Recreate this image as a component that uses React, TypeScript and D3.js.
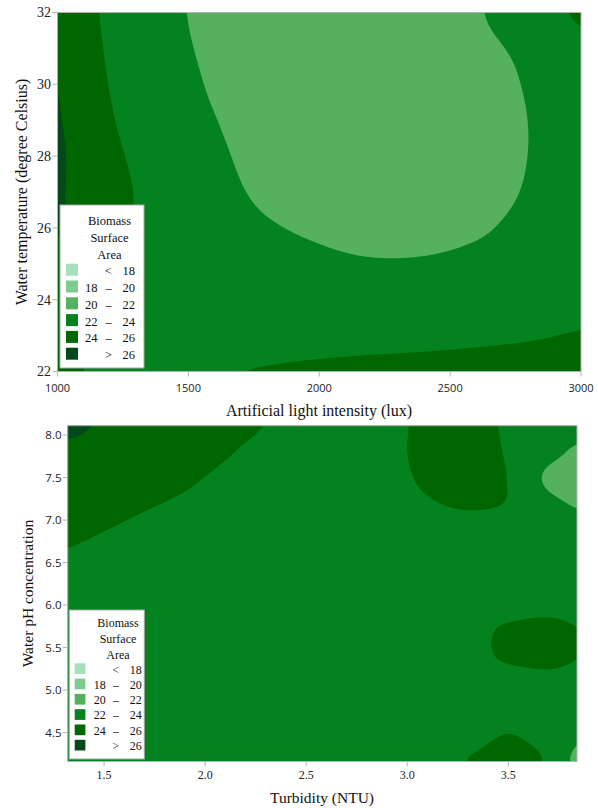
import React from "react";
import * as d3 from "d3";

// Biomass surface area measured over light intensity (lux) and water temperature (°C)
const luxLevels = [1000, 1200, 1400, 1600, 1800, 2000, 2200, 2400, 2600, 2800, 3000];
const temperatureLevels = [32, 31, 30, 29, 28, 27, 26, 25, 24, 23, 22];
const biomassT32 = [25.2, 23.7, 22.6, 21.4, 20.9, 20.7, 20.8, 21.2, 21.85, 23.0, 24.2];
const biomassT31 = [25.5, 23.8, 22.7, 21.6, 21.0, 20.8, 20.8, 21.0, 21.6, 22.4, 23.6];
const biomassT30 = [25.95, 23.95, 22.9, 21.8, 21.1, 20.8, 20.7, 20.9, 21.3, 22.15, 23.3];
const biomassT29 = [26.1, 24.15, 23.0, 22.05, 21.2, 20.8, 20.7, 20.8, 21.2, 22.02, 23.1];
const biomassT28 = [26.2, 24.4, 23.2, 22.3, 21.4, 20.9, 20.7, 20.8, 21.2, 22.02, 23.0];
const biomassT27 = [26.15, 24.6, 23.35, 22.5, 21.7, 21.1, 20.9, 21.0, 21.35, 22.15, 23.0];
const biomassT26 = [26.1, 24.5, 23.4, 22.7, 22.15, 21.75, 21.5, 21.5, 21.8, 22.45, 23.1];
const biomassT25 = [25.6, 24.1, 23.5, 23.0, 22.6, 22.3, 22.12, 22.15, 22.4, 22.8, 23.3];
const biomassT24 = [24.9, 23.85, 23.4, 23.15, 23.0, 22.9, 22.85, 22.9, 23.05, 23.3, 23.6];
const biomassT23 = [24.2, 23.6, 23.35, 23.2, 23.2, 23.3, 23.4, 23.5, 23.65, 23.85, 24.1];
const biomassT22 = [24.3, 23.7, 23.6, 23.85, 24.1, 24.3, 24.45, 24.55, 24.7, 24.85, 25.0];

// Biomass surface area measured over turbidity (NTU) and water pH
const turbidityLevels = [1.3, 1.5, 1.7, 1.9, 2.1, 2.3, 2.5, 2.7, 2.9, 3.1, 3.3, 3.5, 3.7, 3.9];
const phLevels = [8.1, 7.8, 7.5, 7.2, 6.9, 6.6, 6.3, 6.0, 5.7, 5.4, 5.1, 4.8, 4.5, 4.2];
const biomassPh81 = [26.3, 25.85, 25.5, 25.1, 24.6, 23.95, 23.4, 23.1, 23.5, 24.4, 24.5, 23.8, 23.0, 22.6];
const biomassPh78 = [25.7, 25.4, 25.05, 24.7, 24.15, 23.5, 23.1, 23.0, 23.5, 24.45, 24.6, 23.85, 22.5, 21.5];
const biomassPh75 = [25.26, 24.95, 24.6, 24.25, 23.7, 23.2, 23.0, 22.95, 23.35, 24.3, 24.5, 23.95, 21.7, 21.3];
const biomassPh72 = [24.81, 24.5, 24.15, 23.8, 23.3, 23.0, 22.9, 22.9, 23.1, 23.85, 24.2, 23.9, 22.4, 21.7];
const biomassPh69 = [24.36, 24.05, 23.7, 23.4, 23.05, 22.9, 22.85, 22.9, 23.0, 23.2, 23.4, 23.2, 22.9, 22.6];
const biomassPh66 = [23.91, 23.6, 23.3, 23.1, 22.95, 22.85, 22.8, 22.85, 22.95, 23.0, 23.05, 23.0, 23.0, 22.9];
const biomassPh63 = [23.46, 23.2, 23.05, 22.95, 22.85, 22.8, 22.8, 22.85, 22.9, 23.0, 23.05, 23.1, 23.15, 23.0];
const biomassPh60 = [23.1, 23.0, 22.95, 22.9, 22.85, 22.8, 22.8, 22.85, 22.9, 23.0, 23.1, 23.2, 23.5, 23.2];
const biomassPh57 = [22.95, 22.95, 22.9, 22.85, 22.8, 22.8, 22.8, 22.85, 22.9, 23.0, 23.3, 24.3, 24.5, 23.9];
const biomassPh54 = [22.9, 22.9, 22.85, 22.8, 22.8, 22.75, 22.8, 22.85, 22.9, 23.0, 23.3, 24.3, 24.5, 23.9];
const biomassPh51 = [22.9, 22.85, 22.8, 22.8, 22.75, 22.75, 22.8, 22.85, 22.9, 22.95, 23.05, 23.2, 23.5, 23.2];
const biomassPh48 = [22.9, 22.85, 22.8, 22.8, 22.75, 22.75, 22.8, 22.85, 22.9, 22.95, 23.1, 23.2, 23.1, 23.0];
const biomassPh45 = [22.95, 22.9, 22.85, 22.8, 22.8, 22.8, 22.85, 22.9, 22.95, 23.0, 23.3, 23.97, 23.3, 22.5];
const biomassPh42 = [23.0, 22.95, 22.9, 22.85, 22.85, 22.85, 22.9, 22.95, 23.0, 23.2, 24.0, 24.5, 23.73, 20.6];

// Axis ticks
const luxTicks = [1000, 1500, 2000, 2500, 3000];
const temperatureTicks = [22, 24, 26, 28, 30, 32];
const turbidityTicks = [1.5, 2.0, 2.5, 3.0, 3.5];
const phTicks = [4.5, 5.0, 5.5, 6.0, 6.5, 7.0, 7.5, 8.0];

// Contour bands and legend
const bandThresholds = [18, 20, 22, 24, 26];
const bandColors = ["#a6dfba", "#7ecb8f", "#55b15e", "#03821f", "#006600", "#00491b"];
const bandLower = ["", "18", "20", "22", "24", ""];
const bandSymbol = ["<", "–", "–", "–", "–", ">"];
const bandUpper = ["18", "20", "22", "24", "26", "26"];
const legendTitle = ["Biomass", "Surface", "Area"];

const SERIF = "'Liberation Serif', 'Times New Roman', serif";
const SANS = "'Open Sans', 'Noto Sans', sans-serif";
const FRAME = "#b2b2b2";

type Grid = number[][];

function catmullRom(p0: number, p1: number, p2: number, p3: number, t: number) {
  return (
    0.5 *
    (2 * p1 +
      (p2 - p0) * t +
      (2 * p0 - 5 * p1 + 4 * p2 - p3) * t * t +
      (3 * p1 - p0 - 3 * p2 + p3) * t * t * t)
  );
}

// Smooth (bicubic) reading of the measured grid at fractional grid indices
function sampleGrid(grid: Grid, gx: number, gy: number) {
  const rows = grid.length;
  const cols = grid[0].length;
  const cx = Math.max(0, Math.min(cols - 1, gx));
  const cy = Math.max(0, Math.min(rows - 1, gy));
  const ix = Math.min(Math.floor(cx), cols - 2);
  const iy = Math.min(Math.floor(cy), rows - 2);
  const tx = cx - ix;
  const ty = cy - iy;
  const at = (r: number, c: number) =>
    grid[Math.max(0, Math.min(rows - 1, r))][Math.max(0, Math.min(cols - 1, c))];
  const v = [-1, 0, 1, 2].map((d) =>
    catmullRom(at(iy + d, ix - 1), at(iy + d, ix), at(iy + d, ix + 1), at(iy + d, ix + 2), tx)
  );
  return catmullRom(v[0], v[1], v[2], v[3], ty);
}

type PanelConfig = {
  xLevels: number[];
  yLevels: number[];
  grid: Grid;
  xDomain: [number, number];
  xRange: [number, number];
  yDomain: [number, number];
  yRange: [number, number];
  xTicks: number[];
  yTicks: number[];
  tickFormat: (d: number) => string;
  xTickFont: string;
  xTickSize: number;
  xTickBaseline: number;
  yTickFont: string;
  yTickSize: number;
  yTickRight: number;
  xTitle: string;
  xTitlePos: [number, number];
  yTitle: string;
  yTitlePos: [number, number];
  titleSize: number;
  legend: {
    x: number;
    y: number;
    w: number;
    h: number;
    titleCx: number;
    titleY: number[];
    rowY: number;
    rowStep: number;
    swatchX: number;
    swatchSize: number;
    colRight: [number, number, number];
    fontSize: number;
  };
};

function ContourPanel({ cfg }: { cfg: PanelConfig }) {
  const x = d3.scaleLinear().domain(cfg.xDomain).range(cfg.xRange);
  const y = d3.scaleLinear().domain(cfg.yDomain).range(cfg.yRange);
  const gxScale = d3
    .scaleLinear()
    .domain([cfg.xLevels[0], cfg.xLevels[cfg.xLevels.length - 1]])
    .range([0, cfg.xLevels.length - 1]);
  const gyScale = d3
    .scaleLinear()
    .domain([cfg.yLevels[0], cfg.yLevels[cfg.yLevels.length - 1]])
    .range([0, cfg.yLevels.length - 1]);

  const [left, right] = cfg.xRange;
  const [bottom, top] = cfg.yRange;
  const W = right - left;
  const H = bottom - top;
  const nx = Math.round(W / 2);
  const ny = Math.round(H / 2);
  const values: number[] = new Array(nx * ny);
  for (let j = 0; j < ny; j++) {
    const gy = gyScale(y.invert(top + ((j + 0.5) * H) / ny));
    for (let i = 0; i < nx; i++) {
      const gx = gxScale(x.invert(left + ((i + 0.5) * W) / nx));
      values[j * nx + i] = sampleGrid(cfg.grid, gx, gy);
    }
  }
  const bands = d3.contours().size([nx, ny]).thresholds(bandThresholds)(values);
  const projection = d3.geoTransform({
    point: function (px: number, py: number) {
      (this as any).stream.point(left + (px * W) / nx, top + (py * H) / ny);
    },
  });
  const path = d3.geoPath(projection as any);
  const lg = cfg.legend;

  return (
    <g>
      <rect x={left} y={top} width={W} height={H} fill={bandColors[0]} />
      {bands.map((b, k) => (
        <path key={k} d={path(b as any) || ""} fill={bandColors[k + 1]} />
      ))}
      <rect x={left} y={top} width={W} height={H} fill="none" stroke={FRAME} strokeWidth={1} />

      {cfg.yTicks.map((t) => (
        <g key={"y" + t}>
          <line x1={left - 5} x2={left} y1={y(t)} y2={y(t)} stroke={FRAME} />
          <text
            x={cfg.yTickRight}
            y={y(t)}
            dy="0.35em"
            textAnchor="end"
            fontFamily={cfg.yTickFont}
            fontSize={cfg.yTickSize}
            fill="#222"
          >
            {cfg.tickFormat(t)}
          </text>
        </g>
      ))}
      {cfg.xTicks.map((t) => (
        <g key={"x" + t}>
          <line x1={x(t)} x2={x(t)} y1={bottom} y2={bottom + 5} stroke={FRAME} />
          <text
            x={x(t)}
            y={cfg.xTickBaseline}
            textAnchor="middle"
            fontFamily={cfg.xTickFont}
            fontSize={cfg.xTickSize}
            fill="#222"
          >
            {cfg.tickFormat(t)}
          </text>
        </g>
      ))}

      <text
        x={cfg.xTitlePos[0]}
        y={cfg.xTitlePos[1]}
        textAnchor="middle"
        fontFamily={SERIF}
        fontSize={cfg.titleSize}
        fill="#111"
      >
        {cfg.xTitle}
      </text>
      <text
        transform={`translate(${cfg.yTitlePos[0]},${cfg.yTitlePos[1]}) rotate(-90)`}
        textAnchor="middle"
        fontFamily={SERIF}
        fontSize={cfg.titleSize}
        fill="#111"
      >
        {cfg.yTitle}
      </text>

      <g fontFamily={SERIF} fontSize={lg.fontSize} fill="#111">
        <rect x={lg.x} y={lg.y} width={lg.w} height={lg.h} fill="#fff" stroke="#a9a9a9" />
        {legendTitle.map((s, i) => (
          <text key={s} x={lg.titleCx} y={lg.titleY[i]} textAnchor="middle">
            {s}
          </text>
        ))}
        {bandColors.map((c, i) => {
          const by = lg.rowY + i * lg.rowStep;
          return (
            <g key={c}>
              <rect x={lg.swatchX} y={by - lg.swatchSize + 0.5} width={lg.swatchSize} height={lg.swatchSize} fill={c} />
              <text x={lg.colRight[0]} y={by} textAnchor="end">
                {bandLower[i]}
              </text>
              <text x={lg.colRight[1]} y={by} textAnchor="end">
                {bandSymbol[i]}
              </text>
              <text x={lg.colRight[2]} y={by} textAnchor="end">
                {bandUpper[i]}
              </text>
            </g>
          );
        })}
      </g>
    </g>
  );
}

const temperaturePanel: PanelConfig = {
  xLevels: luxLevels,
  yLevels: temperatureLevels,
  grid: [
    biomassT32, biomassT31, biomassT30, biomassT29, biomassT28, biomassT27,
    biomassT26, biomassT25, biomassT24, biomassT23, biomassT22,
  ],
  xDomain: [1000, 3000],
  xRange: [57.5, 581],
  yDomain: [22, 32],
  yRange: [371.5, 12.5],
  xTicks: luxTicks,
  yTicks: temperatureTicks,
  tickFormat: (d) => String(d),
  xTickFont: SANS,
  xTickSize: 11,
  xTickBaseline: 392,
  yTickFont: SERIF,
  yTickSize: 14,
  yTickRight: 51,
  xTitle: "Artificial light intensity (lux)",
  xTitlePos: [319, 416],
  yTitle: "Water temperature (degree Celsius)",
  yTitlePos: [27, 192],
  titleSize: 16,
  legend: {
    x: 60,
    y: 205,
    w: 84,
    h: 163,
    titleCx: 109.5,
    titleY: [225, 241.8, 258.6],
    rowY: 275.2,
    rowStep: 16.8,
    swatchX: 66,
    swatchSize: 12,
    colRight: [97.5, 111.7, 135],
    fontSize: 12.5,
  },
};

const phPanel: PanelConfig = {
  xLevels: turbidityLevels,
  yLevels: phLevels,
  grid: [
    biomassPh81, biomassPh78, biomassPh75, biomassPh72, biomassPh69, biomassPh66, biomassPh63,
    biomassPh60, biomassPh57, biomassPh54, biomassPh51, biomassPh48, biomassPh45, biomassPh42,
  ],
  xDomain: [1.32, 3.84],
  xRange: [67.7, 577],
  yDomain: [4.16, 8.11],
  yRange: [761.5, 425.7],
  xTicks: turbidityTicks,
  yTicks: phTicks,
  tickFormat: d3.format(".1f"),
  xTickFont: SERIF,
  xTickSize: 12,
  xTickBaseline: 778.5,
  yTickFont: SANS,
  yTickSize: 11.5,
  yTickRight: 61.5,
  xTitle: "Turbidity (NTU)",
  xTitlePos: [322, 803],
  yTitle: "Water pH concentration",
  yTitlePos: [33, 593.5],
  titleSize: 15.5,
  legend: {
    x: 69.3,
    y: 610,
    w: 75,
    h: 149,
    titleCx: 118,
    titleY: [627.3, 643.3, 658.5],
    rowY: 673.5,
    rowStep: 15.3,
    swatchX: 74.7,
    swatchSize: 10.7,
    colRight: [105.7, 119, 141.7],
    fontSize: 12,
  },
};

export default function App() {
  return (
    <svg
      width={598}
      height={808}
      viewBox="0 0 598 808"
      style={{ position: "absolute", left: 0, top: 0, background: "#fff" }}
    >
      <ContourPanel cfg={temperaturePanel} />
      <ContourPanel cfg={phPanel} />
    </svg>
  );
}
